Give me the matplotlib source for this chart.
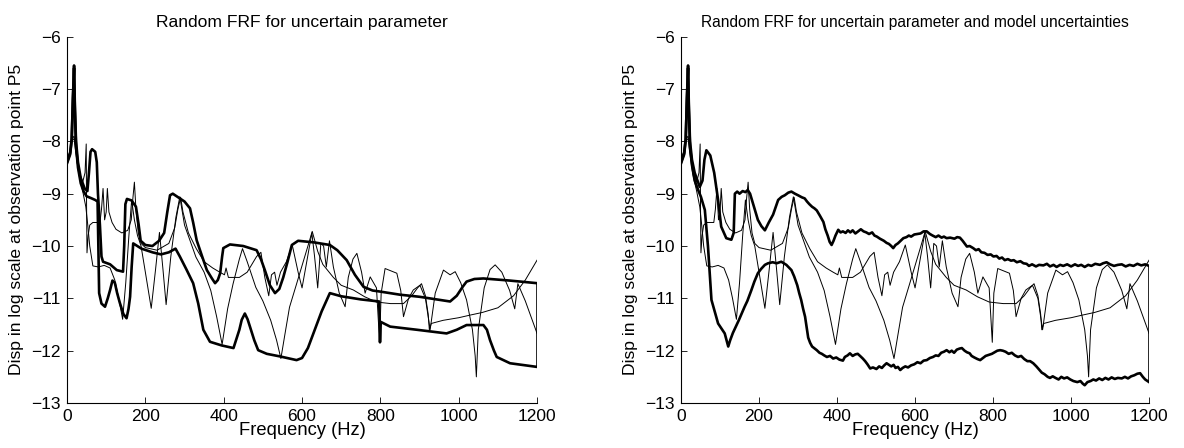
"""
Random FRF plots: envelope (thick) and sample FRFs (thin) for two uncertainty cases.
"""

import matplotlib
matplotlib.use("Agg")
import matplotlib.pyplot as plt

plt.rcParams['font.family'] = ['Liberation Sans', 'DejaVu Sans']

# thin sample FRFs (same in both panels)
thin1_f = [0, 8, 13, 18, 22, 30, 40, 46, 49, 50, 51, 54, 58, 66, 84, 88, 92, 96, 100, 103, 107,
           115, 125, 140, 155, 164, 168, 172, 176, 182, 189, 200, 230, 260, 275, 283, 290, 296,
           310, 330, 350, 372, 390, 402, 406, 412, 440, 460, 484, 495, 505, 515, 522, 530, 536,
           545, 560, 575, 590, 600, 612, 625, 632, 640, 648, 655, 662, 670, 680, 695, 710, 718,
           730, 740, 752, 761, 774, 790, 798, 802, 812, 842, 852, 859, 872, 884, 901, 915, 927,
           940, 961, 978, 991, 1005, 1020, 1035, 1042, 1045, 1050, 1065, 1080, 1093, 1110, 1130,
           1143, 1151, 1170, 1200]
thin1_y = [-8.38, -8.16, -7.95, -7.9, -8.1, -8.55, -8.78, -8.6, -8.05, -9.3, -10.13, -9.8, -9.6,
           -9.55, -9.55, -9.3, -8.9, -9.5, -9.35, -8.9, -9.35, -9.55, -9.68, -9.75, -9.7, -9.5,
           -9.1, -8.78, -9.3, -9.75, -9.95, -10.03, -10.08, -9.95, -9.65, -9.3, -9.07, -9.35,
           -9.75, -10.05, -10.3, -10.42, -10.5, -10.55, -10.42, -10.6, -10.6, -10.5, -10.2,
           -10.12, -10.6, -10.95, -10.55, -10.5, -10.75, -10.5, -10.3, -9.98, -10.5, -10.8,
           -10.3, -9.75, -10.2, -10.8, -9.95, -10.0, -10.4, -9.9, -10.4, -10.9, -11.16, -10.6,
           -10.25, -10.14, -10.5, -10.9, -10.59, -10.8, -11.84, -10.9, -10.43, -10.52, -10.85,
           -11.35, -11.0, -10.84, -10.75, -11.0, -11.6, -10.9, -10.46, -10.55, -10.49, -10.7,
           -11.03, -11.6, -12.1, -12.5, -11.6, -10.8, -10.45, -10.36, -10.5, -10.85, -11.2,
           -10.72, -11.05, -11.67]

thin2_f = [0, 8, 13, 18, 22, 30, 40, 48, 53, 58, 66, 80, 95, 110, 122, 132, 142, 150, 158, 165,
           172, 180, 189, 200, 215, 226, 236, 245, 253, 265, 278, 288, 300, 329, 350, 367, 382,
           396, 410, 424, 440, 448, 460, 482, 500, 520, 535, 546, 556, 568, 585, 601, 615, 626,
           640, 653, 680, 700, 731, 760, 790, 826, 859, 880, 895, 905, 915, 922, 925, 930, 960,
           1000, 1029, 1060, 1100, 1140, 1170, 1200]
thin2_y = [-8.4, -8.2, -7.98, -7.95, -8.2, -8.62, -8.95, -9.25, -9.6, -10.0, -10.38, -10.4,
           -10.37, -10.42, -10.65, -11.0, -11.4, -10.7, -9.8, -9.12, -9.5, -9.8, -10.0, -10.5,
           -11.19, -10.45, -9.74, -10.45, -11.12, -10.2, -9.45, -9.06, -9.6, -10.21, -10.5,
           -10.85, -11.35, -11.88, -11.2, -10.72, -10.25, -10.05, -10.3, -10.79, -11.05, -11.42,
           -11.8, -12.15, -11.7, -11.17, -10.75, -10.35, -10.0, -9.72, -10.1, -10.35, -10.6,
           -10.75, -10.84, -10.97, -11.07, -11.1, -11.1, -10.95, -10.8, -10.72, -10.95, -11.3,
           -11.6, -11.48, -11.42, -11.37, -11.32, -11.27, -11.18, -10.95, -10.65, -10.27]

# envelope, uncertain parameter only
upA_f = [0, 8, 12, 15, 18, 20, 23, 28, 35, 45, 52, 56, 60, 64, 72, 76, 79, 84, 88, 92, 110, 127,
         143, 146, 149, 153, 165, 176, 183, 188, 200, 218, 235, 248, 256, 263, 270, 288, 300, 314,
         322, 331, 345, 357, 370, 378, 385, 391, 396, 399, 416, 450, 484, 495, 505, 518, 531, 542,
         552, 563, 574, 590, 630, 671, 690, 714, 735, 757, 780, 799, 850, 900, 952, 978, 995,
         1010, 1020, 1040, 1063, 1130, 1200]
upA_y = [-8.4, -8.22, -7.95, -7.2, -6.55, -7.3, -8.0, -8.4, -8.7, -8.9, -8.95, -8.6, -8.2, -8.15,
         -8.2, -8.4, -9.0, -9.6, -10.2, -10.3, -10.35, -10.46, -10.49, -10.0, -9.2, -9.1, -9.13,
         -9.25, -9.6, -9.9, -9.98, -10.0, -9.9, -9.75, -9.35, -9.03, -9.0, -9.09, -9.15, -9.28,
         -9.55, -9.89, -10.2, -10.46, -10.62, -10.71, -10.65, -10.52, -10.2, -10.04, -9.97,
         -10.0, -10.08, -10.25, -10.46, -10.75, -10.9, -10.82, -10.6, -10.3, -9.98, -9.9, -9.93,
         -9.98, -10.08, -10.27, -10.55, -10.78, -10.85, -10.87, -10.93, -10.97, -11.03, -11.06,
         -10.95, -10.78, -10.68, -10.63, -10.62, -10.66, -10.71]
lowA_f = [0, 8, 12, 15, 18, 20, 23, 28, 35, 42, 50, 60, 72, 78, 80, 82, 88, 97, 104, 110, 116,
          122, 128, 135, 144, 152, 157, 161, 165, 169, 190, 218, 240, 260, 277, 288, 305, 322, 335,
          348, 365, 395, 425, 440, 446, 454, 461, 467, 478, 488, 510, 544, 586, 600, 615, 629, 650,
          671, 700, 750, 797, 799, 801, 825, 893, 969, 995, 1020, 1063, 1072, 1080, 1090, 1097,
          1131, 1200]
lowA_y = [-8.42, -8.25, -7.97, -7.2, -6.6, -7.4, -8.1, -8.5, -8.8, -8.95, -9.05, -9.08, -9.12,
          -9.15, -10.0, -10.9, -11.1, -11.16, -11.0, -10.84, -10.66, -10.7, -10.9, -11.09, -11.3,
          -11.38, -11.2, -10.97, -10.4, -9.95, -10.05, -10.12, -10.16, -10.12, -10.05, -10.2,
          -10.45, -10.71, -11.1, -11.6, -11.83, -11.9, -11.95, -11.6, -11.41, -11.29, -11.4,
          -11.54, -11.8, -11.99, -12.06, -12.11, -12.18, -12.14, -11.95, -11.67, -11.25, -10.9,
          -10.96, -11.02, -11.06, -11.84, -11.45, -11.54, -11.6, -11.67, -11.6, -11.51, -11.51,
          -11.6, -11.8, -12.0, -12.12, -12.24, -12.31]

# envelope, uncertain parameter and model uncertainties
upB_f = [0, 8, 12, 15, 18, 20, 23, 28, 35, 48, 55, 60, 65, 75, 85, 95, 103, 116, 129, 135, 138,
         144, 150, 158, 165, 171, 177, 187, 197, 206, 215, 225, 236, 249, 258, 266, 275, 283, 292,
         300, 310, 317, 323, 329, 336, 342, 348, 356, 365, 370, 376, 381, 386, 391, 396, 403, 409,
         415, 422, 428, 434, 440, 447, 454, 461, 468, 475, 482, 490, 496, 502, 510, 520, 527, 533,
         539, 544, 550, 556, 563, 570, 578, 584, 590, 598, 606, 614, 622, 630, 638, 645, 653, 660,
         668, 674, 681, 690, 701, 708, 715, 722, 728, 733, 740, 749, 756, 763, 770, 778, 786, 794,
         801, 809, 816, 823, 830, 838, 846, 853, 861, 870, 878, 886, 892, 900, 910, 918, 929, 938,
         946, 955, 963, 972, 980, 990, 1000, 1010, 1018, 1026, 1035, 1044, 1052, 1062, 1074, 1082,
         1091, 1100, 1110, 1120, 1130, 1140, 1150, 1160, 1170, 1180, 1190, 1200]
upB_y = [-8.4, -8.22, -7.95, -7.2, -6.55, -7.3, -8.0, -8.35, -8.6, -8.87, -8.75, -8.35, -8.17,
         -8.27, -8.6, -9.12, -9.63, -9.85, -9.88, -9.75, -9.0, -8.96, -9.0, -8.95, -8.97, -8.93,
         -9.0, -9.25, -9.5, -9.62, -9.7, -9.55, -9.4, -9.12, -9.06, -9.03, -8.98, -8.96, -9.0,
         -9.03, -9.07, -9.09, -9.15, -9.2, -9.25, -9.28, -9.32, -9.42, -9.54, -9.68, -9.8, -9.92,
         -9.98, -9.9, -9.8, -9.69, -9.74, -9.72, -9.75, -9.7, -9.74, -9.7, -9.76, -9.72, -9.68,
         -9.72, -9.74, -9.77, -9.74, -9.8, -9.82, -9.86, -9.9, -9.94, -9.96, -10.0, -10.04,
         -9.98, -9.95, -9.9, -9.85, -9.83, -9.8, -9.82, -9.78, -9.77, -9.76, -9.72, -9.72, -9.77,
         -9.8, -9.83, -9.8, -9.84, -9.82, -9.85, -9.84, -9.86, -9.83, -9.84, -9.9, -9.96, -10.01,
         -10.0, -10.04, -10.08, -10.06, -10.12, -10.13, -10.17, -10.16, -10.2, -10.19, -10.24,
         -10.22, -10.27, -10.25, -10.28, -10.27, -10.31, -10.29, -10.33, -10.34, -10.38, -10.35,
         -10.39, -10.36, -10.37, -10.34, -10.39, -10.36, -10.4, -10.36, -10.38, -10.35, -10.39,
         -10.35, -10.38, -10.36, -10.4, -10.36, -10.38, -10.34, -10.36, -10.33, -10.31, -10.35,
         -10.38, -10.36, -10.35, -10.39, -10.36, -10.38, -10.34, -10.37, -10.35, -10.38]
lowB_f = [0, 8, 12, 15, 18, 20, 23, 28, 35, 45, 51, 61, 69, 78, 95, 112, 121, 126, 130, 133, 140,
          148, 155, 163, 170, 180, 188, 197, 205, 215, 223, 235, 245, 257, 270, 283, 290, 298, 303,
          308, 313, 318, 322, 326, 331, 336, 341, 348, 355, 361, 367, 374, 382, 390, 398, 406, 415,
          420, 427, 433, 440, 447, 453, 459, 466, 472, 478, 485, 492, 501, 508, 515, 521, 527, 533,
          539, 545, 550, 556, 562, 568, 575, 582, 590, 598, 606, 614, 622, 630, 638, 646, 653, 660,
          667, 674, 681, 688, 694, 700, 707, 714, 720, 727, 733, 740, 745, 752, 760, 767, 774, 781,
          789, 797, 804, 811, 818, 825, 832, 840, 848, 856, 864, 872, 880, 888, 895, 903, 911, 918,
          925, 932, 940, 946, 953, 960, 968, 975, 982, 990, 998, 1006, 1016, 1024, 1030, 1035, 1042,
          1050, 1057, 1064, 1072, 1080, 1088, 1096, 1104, 1112, 1120, 1130, 1138, 1146, 1154, 1162,
          1170, 1177, 1184, 1190, 1200]
lowB_y = [-8.42, -8.25, -7.97, -7.2, -6.6, -7.4, -8.1, -8.45, -8.75, -8.95, -9.06, -9.31, -10.0,
          -11.03, -11.48, -11.67, -11.92, -11.8, -11.72, -11.66, -11.55, -11.42, -11.3, -11.16,
          -11.05, -10.85, -10.68, -10.52, -10.44, -10.36, -10.33, -10.31, -10.33, -10.3, -10.36,
          -10.46, -10.58, -10.75, -10.9, -11.03, -11.2, -11.35, -11.55, -11.75, -11.85, -11.92,
          -11.95, -11.99, -12.04, -12.06, -12.09, -12.12, -12.1, -12.15, -12.13, -12.17, -12.19,
          -12.12, -12.09, -12.05, -12.1, -12.07, -12.06, -12.1, -12.15, -12.2, -12.26, -12.34,
          -12.32, -12.35, -12.3, -12.33, -12.28, -12.24, -12.27, -12.3, -12.27, -12.33, -12.31,
          -12.37, -12.33, -12.3, -12.32, -12.28, -12.26, -12.22, -12.24, -12.19, -12.18, -12.14,
          -12.12, -12.09, -12.1, -12.04, -12.02, -11.99, -12.03, -12.0, -12.04, -11.98, -11.96,
          -11.95, -12.0, -12.03, -12.05, -12.1, -12.13, -12.16, -12.18, -12.14, -12.1, -12.08,
          -12.06, -12.03, -12.0, -11.99, -12.0, -12.02, -12.06, -12.04, -12.09, -12.12, -12.1,
          -12.16, -12.2, -12.2, -12.24, -12.3, -12.36, -12.42, -12.45, -12.5, -12.52, -12.49,
          -12.52, -12.55, -12.5, -12.53, -12.51, -12.55, -12.58, -12.6, -12.58, -12.63, -12.66,
          -12.6, -12.58, -12.55, -12.57, -12.53, -12.56, -12.52, -12.55, -12.51, -12.54, -12.52,
          -12.53, -12.5, -12.53, -12.49, -12.47, -12.44, -12.43, -12.5, -12.55, -12.6]

titles = ['Random FRF for uncertain parameter',
          'Random FRF for uncertain parameter and model uncertainties']
title_sizes = [12.6, 11.2]
envelopes = [(upA_f, upA_y, lowA_f, lowA_y), (upB_f, upB_y, lowB_f, lowB_y)]

fig = plt.figure(figsize=(11.84, 4.48), dpi=100)
axes = [fig.add_axes([0.0566, 0.1004, 0.397, 0.8177]),
        fig.add_axes([0.5752, 0.1004, 0.3953, 0.8177])]

for ax, (uf, uy, lf, ly), title, tsize in zip(axes, envelopes, titles, title_sizes):
    ax.plot(thin1_f, thin1_y, color='k', lw=0.7)
    ax.plot(thin2_f, thin2_y, color='k', lw=0.7)
    ax.plot(uf, uy, color='k', lw=1.9)
    ax.plot(lf, ly, color='k', lw=1.9)
    ax.vlines(1200, ly[-1], uy[-1], color='k', lw=1.9)
    ax.set_xlim(0, 1200)
    ax.set_ylim(-13, -6)
    ax.set_xticks(range(0, 1201, 200))
    ax.set_yticks(range(-13, -5))
    ax.tick_params(direction='in', labelsize=12.5, length=4, width=0.6, pad=4.5)
    ax.spines['top'].set_visible(False)
    ax.spines['right'].set_visible(False)
    ax.set_xlabel('Frequency (Hz)', fontsize=13.2, labelpad=-1.5)
    ax.set_ylabel('Disp in log scale at observation point P5', fontsize=12.6, labelpad=5)
    ax.set_title(title, fontsize=tsize, pad=7)

fig.savefig('out.png', dpi=100)
